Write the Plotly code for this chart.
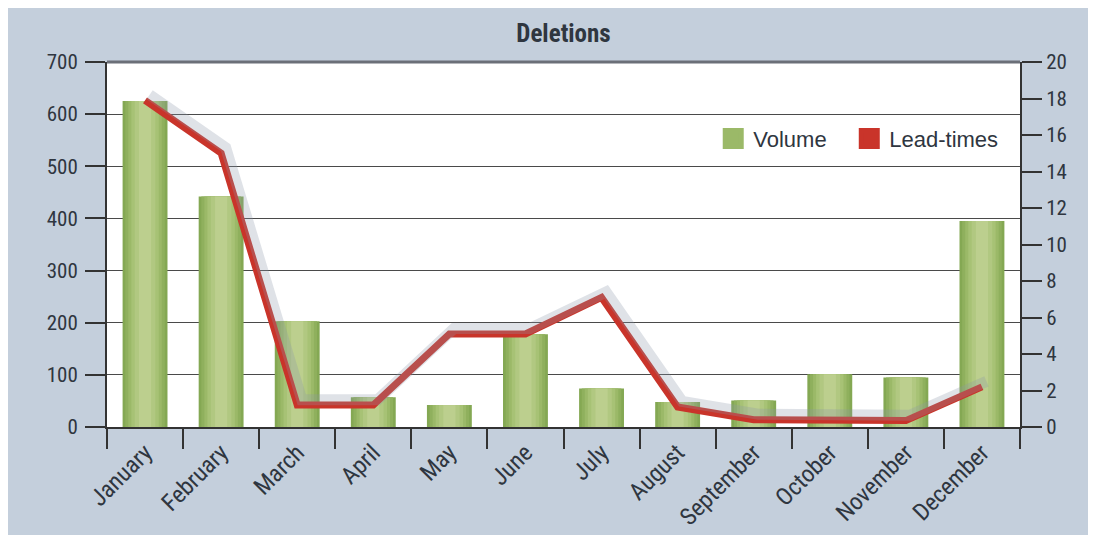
import plotly.graph_objects as go

months = ["January", "February", "March", "April", "May", "June", "July",
          "August", "September", "October", "November", "December"]
volume = [625, 442, 203, 57, 42, 178, 74, 48, 51, 101, 95, 395]
lead_times = [17.9, 15.0, 1.2, 1.2, 5.1, 5.1, 7.1, 1.1, 0.4, 0.35, 0.35, 2.2]

left_ticks = [0, 100, 200, 300, 400, 500, 600, 700]
right_ticks = [0, 2, 4, 6, 8, 10, 12, 14, 16, 18, 20]

FONT = "Liberation Sans Narrow, Roboto Condensed, Noto Sans Condensed, Roboto, sans-serif"
TXT = "#2f3640"
BLUE = "#c4cfdc"

fig = go.Figure()

# bars, layered to fake the cylinder gradient
bar_layers = [(0.59, "#84a853"), (0.52, "#8fb05d"), (0.44, "#9bb968"),
              (0.36, "#a7c275"), (0.27, "#b1c881"), (0.16, "#bccf8e")]
for w, c in bar_layers:
    fig.add_trace(go.Bar(x=months, y=volume, width=w, marker=dict(color=c, line=dict(width=0)),
                         showlegend=False, hoverinfo="skip", xaxis="x", yaxis="y"))

# soft shadow under the line (same data, slightly shifted axes)
fig.add_trace(go.Scatter(x=months, y=lead_times, mode="lines",
                         line=dict(color="rgba(140,152,170,0.28)", width=11),
                         showlegend=False, hoverinfo="skip", xaxis="x2", yaxis="y3"))
fig.add_trace(go.Scatter(x=months, y=lead_times, mode="lines",
                         line=dict(color="#c9342a", width=7),
                         showlegend=False, xaxis="x", yaxis="y2"))

# legend entries as squares (two legends so the spacing matches)
fig.add_trace(go.Scatter(x=[None], y=[None], mode="markers", name="Volume", legend="legend",
                         marker=dict(symbol="square", size=16, color="#9bb968",
                                     line=dict(color="#9bb968", width=5))))
fig.add_trace(go.Scatter(x=[None], y=[None], mode="markers", name="Lead-times", legend="legend2",
                         marker=dict(symbol="square", size=16, color="#c9342a",
                                     line=dict(color="#c9342a", width=5))))

legend_font = dict(family="Liberation Sans, Arial, sans-serif", size=22, color=TXT)

fig.update_layout(
    width=1096, height=535,
    margin=dict(l=99, r=84, t=54, b=110),
    paper_bgcolor=BLUE,
    plot_bgcolor="white",
    barmode="overlay",
    title=dict(text="<b>Deletions</b>", xref="paper", x=0.5, xanchor="center",
               y=0.953, yanchor="middle",
               font=dict(family=FONT, size=25, color=TXT)),
    font=dict(family=FONT, color=TXT),
    showlegend=True,
    legend=dict(orientation="h", x=0.664, y=0.79, xanchor="left", yanchor="middle",
                bgcolor="rgba(255,255,255,0)", font=legend_font, itemwidth=30),
    legend2=dict(orientation="h", x=0.813, y=0.79, xanchor="left", yanchor="middle",
                 bgcolor="rgba(255,255,255,0)", font=legend_font, itemwidth=30),
    xaxis=dict(type="category", range=[-0.5, 11.5], tickangle=-45, tickson="boundaries",
               ticks="outside", ticklen=20, tickwidth=2, tickcolor="#333",
               showline=True, linecolor="#333", linewidth=2, showgrid=False,
               tickfont=dict(family=FONT, size=24, color=TXT)),
    xaxis2=dict(type="category", overlaying="x", range=[-0.56, 11.44], visible=False,
                categoryorder="array", categoryarray=months),
    yaxis=dict(range=[0, 700], tickvals=left_ticks, ticks="outside", ticklen=20, tickwidth=2,
               tickcolor="#333", showline=True, linecolor="#333", linewidth=2,
               showgrid=True, gridcolor="#4a4a4a", gridwidth=1.3, zeroline=False,
               ticklabelstandoff=3, tickfont=dict(family=FONT, size=21, color=TXT)),
    yaxis2=dict(range=[0, 20], tickvals=right_ticks, overlaying="y", side="right",
                ticks="outside", ticklen=20, tickwidth=2, tickcolor="#333",
                showline=True, linecolor="#333", linewidth=2, showgrid=False, zeroline=False,
                tickfont=dict(family=FONT, size=21, color=TXT)),
    yaxis3=dict(range=[-0.3, 19.7], overlaying="y", visible=False),
    shapes=[
        dict(type="line", xref="paper", yref="paper", x0=0, x1=1, y0=1, y1=1,
             line=dict(color="#6b6f78", width=3)),
    ],
)

fig.write_html("out.html")
